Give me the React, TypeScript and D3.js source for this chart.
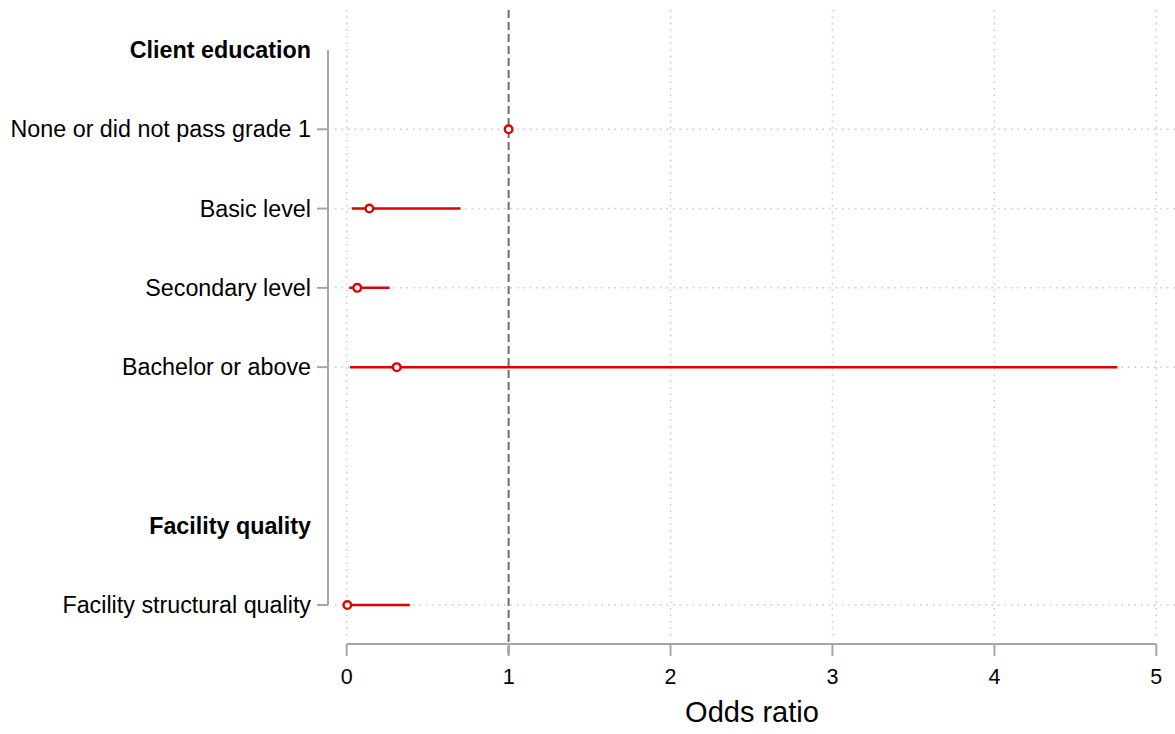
import React from "react";
import * as d3 from "d3";

const rowLabels = [
  "Client education",
  "None or did not pass grade 1",
  "Basic level",
  "Secondary level",
  "Bachelor or above",
  "",
  "Facility quality",
  "Facility structural quality",
];
const rowIsHeader = [true, false, false, false, false, false, true, false];
const estimates = [null, 1, 0.14, 0.065, 0.309, null, null, 0.004];
const ciLow = [null, null, 0.031, 0.016, 0.02, null, null, 0.001];
const ciHigh = [null, null, 0.703, 0.265, 4.76, null, null, 0.39];
const xTicks = [0, 1, 2, 3, 4, 5];
const xTitle = "Odds ratio";

const W = 1175;
const H = 734;
const RED = "#e00000";
const AXIS = "#a6a6a6";
const GRID = "#c8c8c8";
const FONT = "'Liberation Sans', Arial, sans-serif";

export default function App() {
  const x = d3.scaleLinear().domain([0, 5]).range([346.7, 1156.3]);
  const y = d3.scaleLinear().domain([0, rowLabels.length - 1]).range([50, 605]);
  const axisY = 644;
  const axisX = 328;
  const idx = d3.range(rowLabels.length);
  const dataRows = idx.filter((i) => !rowIsHeader[i] && rowLabels[i] !== "");

  return (
    <svg
      width={W}
      height={H}
      style={{ position: "absolute", left: 0, top: 0, background: "#fff" }}
      fontFamily={FONT}
    >
      {/* vertical grid */}
      {xTicks
        .filter((t) => t !== 1)
        .map((t) => (
          <line
            key={"vg" + t}
            x1={x(t)}
            x2={x(t)}
            y1={10}
            y2={638}
            stroke={GRID}
            strokeWidth={1.5}
            strokeDasharray="1.5 5"
          />
        ))}
      {/* horizontal grid */}
      {dataRows.map((i) => (
        <line
          key={"hg" + i}
          x1={335}
          x2={W}
          y1={y(i)}
          y2={y(i)}
          stroke={GRID}
          strokeWidth={1.5}
          strokeDasharray="1.5 5"
        />
      ))}
      {/* reference line */}
      <line
        x1={x(1)}
        x2={x(1)}
        y1={10}
        y2={656}
        stroke="#6e6e6e"
        strokeWidth={2}
        strokeDasharray="8 4"
      />
      {/* y axis */}
      <line x1={axisX} x2={axisX} y1={y(0)} y2={y(7)} stroke={AXIS} strokeWidth={2} />
      {dataRows.map((i) => (
        <line
          key={"yt" + i}
          x1={axisX - 11}
          x2={axisX}
          y1={y(i)}
          y2={y(i)}
          stroke={AXIS}
          strokeWidth={2}
        />
      ))}
      {idx.map((i) =>
        rowLabels[i] ? (
          <text
            key={"yl" + i}
            x={311}
            y={y(i)}
            dy="0.35em"
            textAnchor="end"
            fontSize={23.3}
            fontWeight={rowIsHeader[i] ? "bold" : "normal"}
            fill="#000"
          >
            {rowLabels[i]}
          </text>
        ) : null
      )}
      {/* x axis */}
      <line x1={x(0)} x2={x(5)} y1={axisY} y2={axisY} stroke={AXIS} strokeWidth={2} />
      {xTicks.map((t) => (
        <g key={"xt" + t}>
          <line x1={x(t)} x2={x(t)} y1={axisY} y2={axisY + 12} stroke={AXIS} strokeWidth={2} />
          <text x={x(t)} y={684} textAnchor="middle" fontSize={21.5} fill="#000">
            {t}
          </text>
        </g>
      ))}
      <text x={752} y={722} textAnchor="middle" fontSize={29} fill="#000">
        {xTitle}
      </text>
      {/* CIs */}
      {idx.map((i) =>
        ciLow[i] != null && ciHigh[i] != null ? (
          <line
            key={"ci" + i}
            x1={x(ciLow[i] as number)}
            x2={x(ciHigh[i] as number)}
            y1={y(i)}
            y2={y(i)}
            stroke={RED}
            strokeWidth={2.5}
          />
        ) : null
      )}
      {/* points */}
      {idx.map((i) =>
        estimates[i] != null ? (
          <circle
            key={"pt" + i}
            cx={x(estimates[i] as number)}
            cy={y(i)}
            r={3.8}
            fill="#fff"
            stroke={RED}
            strokeWidth={2.4}
          />
        ) : null
      )}
    </svg>
  );
}
